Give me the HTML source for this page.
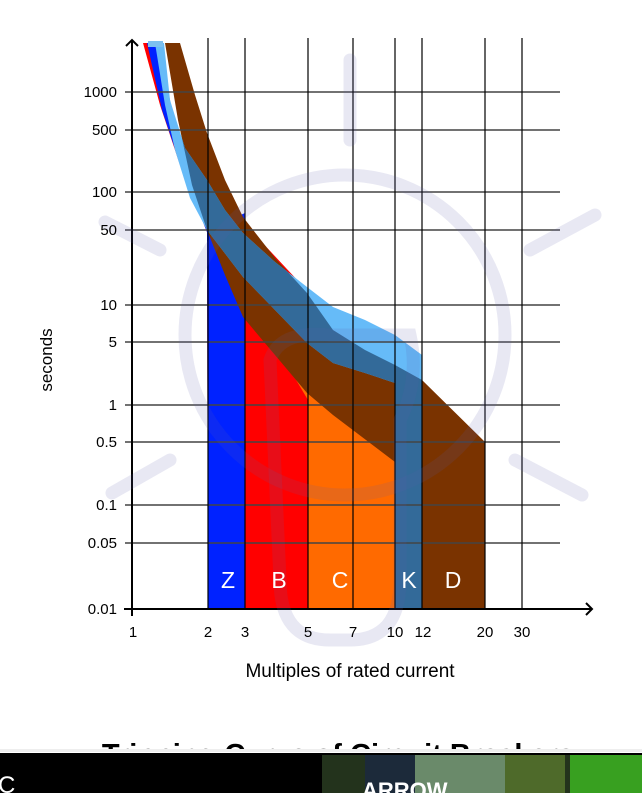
<!DOCTYPE html>
<html><head><meta charset="utf-8"><style>
html,body{margin:0;padding:0;background:#fff;width:642px;height:793px;overflow:hidden;font-family:"Liberation Sans",sans-serif}
</style></head><body>
<svg width="642" height="793" style="position:absolute;left:0;top:0" font-family="Liberation Sans, sans-serif">
<defs>
<clipPath id="dclip"><polygon points="165,43 180,43 195,95 207,133 225,180 243,217 275,258 307,293 333,330 365,350 395,365 422,380 485,442 485,609 395,609 395,462 333,415 307,393 275,355 243,317 225,275 207,230 192,185 178,120"/></clipPath>
</defs>
<polygon fill="#ff0000" points="143,43 155,43 165,100 185,150 207,140 243,222 300,283 308,292 308,609 208,609 207,232 180,165 160,105"/>
<polygon fill="#ff6a00" points="283,358 395,440 395,609 308,609 308,400"/>
<polygon fill="#0022ff" points="147,43 162,43 165,100 178,150 195,195 207,230 245,213 245,609 208,609 207,232 182,170 162,110"/>
<polygon fill="#7a3300" points="165,43 180,43 195,95 207,133 225,180 243,217 275,258 307,293 333,330 365,350 395,365 422,380 485,442 485,609 395,609 395,462 333,415 307,393 275,355 243,317 225,275 207,230 192,185 178,120"/>
<polygon fill="#0a6cff" points="156,43 163,43 166,80 172,110 180,140 192,165 207,185 207,228 190,195 176,150 166,105"/>
<polygon fill="#66bbf8" points="155,43 164,43 170,100 185,148 207,180 225,210 243,233 275,262 307,287 333,307 365,320 395,335 422,355 422,609 395,609 395,383 365,373 333,363 307,343 275,310 243,277 207,230 190,198 175,150 165,105"/>
<polygon fill="#336a99" clip-path="url(#dclip)" points="155,43 164,43 170,100 185,148 207,180 225,210 243,233 275,262 307,287 333,307 365,320 395,335 422,355 422,609 395,609 395,383 365,373 333,363 307,343 275,310 243,277 207,230 190,198 175,150 165,105"/>
<rect x="148" y="41" width="15" height="6" fill="#7cc0f0"/>
<g stroke="#444" stroke-width="1.5">
<line x1="125" y1="92" x2="560" y2="92"/><line x1="125" y1="130" x2="560" y2="130"/>
<line x1="125" y1="192" x2="560" y2="192"/><line x1="125" y1="230" x2="560" y2="230"/>
<line x1="125" y1="305" x2="560" y2="305"/><line x1="125" y1="342" x2="560" y2="342"/>
<line x1="125" y1="405" x2="560" y2="405"/><line x1="125" y1="442" x2="560" y2="442"/>
<line x1="125" y1="505" x2="560" y2="505"/><line x1="125" y1="543" x2="560" y2="543"/>
</g>
<g stroke="#000" stroke-width="1.2">
<line x1="208" y1="38" x2="208" y2="609"/><line x1="245" y1="38" x2="245" y2="609"/>
<line x1="308" y1="38" x2="308" y2="609"/><line x1="353" y1="38" x2="353" y2="609"/>
<line x1="395" y1="38" x2="395" y2="609"/><line x1="422" y1="38" x2="422" y2="609"/>
<line x1="485" y1="38" x2="485" y2="609"/><line x1="522" y1="38" x2="522" y2="609"/>
</g>
<g stroke="#000" stroke-width="2" fill="none">
<line x1="132" y1="612" x2="132" y2="40"/><polyline points="126,46 132,40 138,46"/>
<line x1="124" y1="609" x2="592" y2="609"/><polyline points="586,603 592,609 586,615"/>
<line x1="132" y1="609" x2="132" y2="616"/>
</g>
<g stroke="#5a5aaa" stroke-opacity="0.14" stroke-width="13" fill="none" stroke-linecap="round">
<circle cx="345" cy="335" r="160"/>
<line x1="350" y1="60" x2="350" y2="140"/>
<line x1="105" y1="222" x2="160" y2="250"/>
<line x1="595" y1="215" x2="530" y2="250"/>
<line x1="112" y1="493" x2="170" y2="460"/>
<line x1="582" y1="495" x2="515" y2="460"/>
<path d="M270,360 Q280,330 330,335 L410,335 Q420,380 400,420 L400,580 Q400,640 350,640 L330,640 Q280,640 280,580 Z"/>
</g>
<g font-size="15" fill="#000" text-anchor="end">
<text x="117" y="97">1000</text><text x="117" y="135">500</text>
<text x="117" y="197">100</text><text x="117" y="235">50</text>
<text x="117" y="310">10</text><text x="117" y="347">5</text>
<text x="117" y="410">1</text><text x="117" y="447">0.5</text>
<text x="117" y="510">0.1</text><text x="117" y="548">0.05</text>
<text x="117" y="614">0.01</text>
</g>
<g font-size="15" fill="#000" text-anchor="middle">
<text x="133" y="637">1</text><text x="208" y="637">2</text><text x="245" y="637">3</text>
<text x="308" y="637">5</text><text x="353" y="637">7</text><text x="395" y="637">10</text>
<text x="423" y="637">12</text><text x="485" y="637">20</text><text x="522" y="637">30</text>
</g>
<text x="350" y="677" font-size="19" text-anchor="middle">Multiples of rated current</text>
<text transform="translate(52,360) rotate(-90)" font-size="17" text-anchor="middle">seconds</text>
<g font-size="23" fill="#fff" text-anchor="middle">
<text x="228" y="588">Z</text><text x="279" y="588">B</text><text x="340" y="588">C</text>
<text x="409" y="588">K</text><text x="453" y="588">D</text>
</g>
<svg x="0" y="738" width="642" height="12"><text x="338" y="26" font-size="29" font-weight="bold" text-anchor="middle">Tripping Curve of Circuit Breakers</text></svg>
<rect x="0" y="749" width="642" height="3" fill="#eee"/>
<rect x="0" y="753" width="642" height="40" fill="#000"/>
<rect x="322" y="755" width="320" height="38" fill="#23331c"/>
<rect x="365" y="755" width="50" height="38" fill="#1c2a3a"/>
<rect x="415" y="755" width="90" height="38" fill="#6a8a6a"/>
<rect x="505" y="755" width="60" height="38" fill="#4e6a2a"/>
<rect x="570" y="755" width="72" height="38" fill="#38a020"/>
<text x="-2" y="793" font-size="24" fill="#fff">C</text>
<text x="362" y="798" font-size="22" font-weight="bold" fill="#fff">ARROW</text>
</svg>
</body></html>
